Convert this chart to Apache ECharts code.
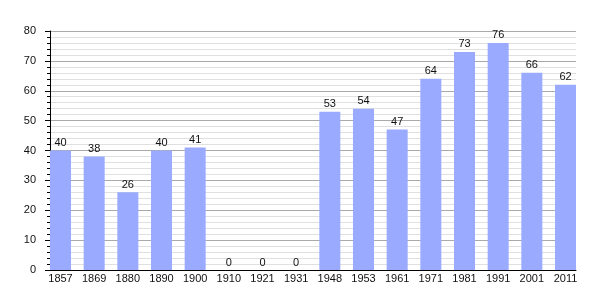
<!DOCTYPE html>
<html><head><meta charset="utf-8">
<script src="https://cdn.jsdelivr.net/npm/echarts@6/dist/echarts.min.js"></script>
<style>html,body{margin:0;padding:0;background:#fff}#c{width:605px;height:300px}</style>
</head><body><div id="c"></div>
<script>
const years = ['1857','1869','1880','1890','1900','1910','1921','1931','1948','1953','1961','1971','1981','1991','2001','2011'];
const values = [40,38,26,40,41,0,0,0,53,54,47,64,73,76,66,62];
const yMin = 0, yMax = 80, yStep = 10;

const chart = echarts.init(document.getElementById('c'), null, {renderer:'canvas'});
const font = 'Liberation Sans, Arial, sans-serif';
chart.setOption({
  animation:false,
  backgroundColor:'#fff',
  grid:[
    {left:50, right:29, top:31, bottom:30},
    {left:43.67, right:22.67, top:31, bottom:30}
  ],
  xAxis:[
    {gridIndex:0, type:'value', min:0, max:1, axisLine:{show:true, lineStyle:{color:'#000', width:1}},
     axisTick:{show:false}, axisLabel:{show:false}, splitLine:{show:false}},
    {gridIndex:1, type:'category', data:years, axisLine:{show:false}, axisTick:{show:false},
     axisLabel:{color:'#111', fontSize:11, fontFamily:font, margin:3}}
  ],
  yAxis:[
    {gridIndex:0, type:'value', min:yMin, max:yMax, interval:yStep,
     axisLine:{show:true, lineStyle:{color:'#000'}},
     axisTick:{show:true, length:5, lineStyle:{color:'#000'}},
     minorTick:{show:true, splitNumber:5, length:3, lineStyle:{color:'#000'}},
     splitLine:{show:true, lineStyle:{color:'#aaa'}},
     minorSplitLine:{show:true, lineStyle:{color:'#e0e0e0'}},
     axisLabel:{color:'#111', fontSize:11, fontFamily:font, margin:14}},
    {gridIndex:1, type:'value', min:yMin, max:yMax, show:false, splitLine:{show:false}}
  ],
  series:[{
    type:'bar', xAxisIndex:1, yAxisIndex:1, data:values, barWidth:21,
    itemStyle:{color:'#99aaff'},
    label:{show:true, position:'top', distance:2, color:'#111', fontSize:11, fontFamily:font}
  }]
});
</script></body></html>
